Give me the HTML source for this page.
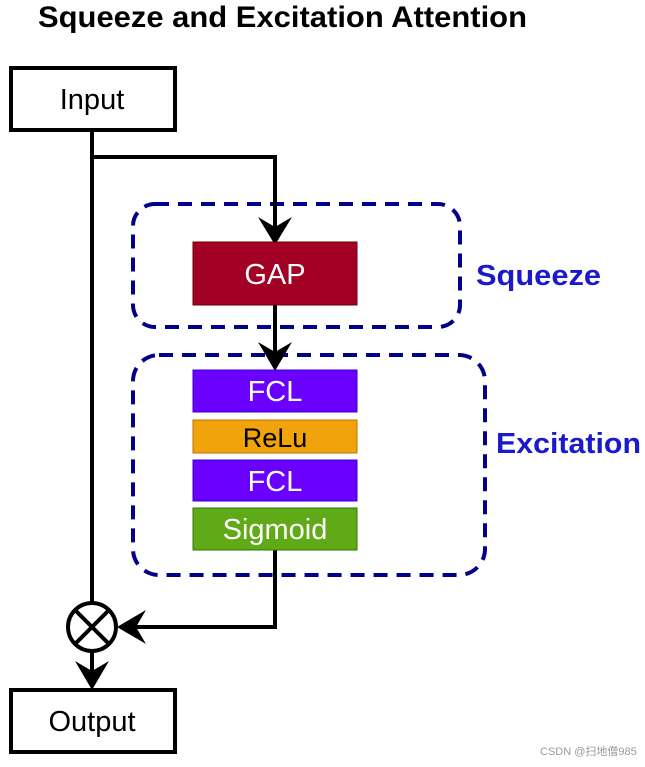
<!DOCTYPE html>
<html><head><style>
body{margin:0;background:#fff;}
svg text{font-family:"Liberation Sans",Arial,sans-serif;}
</style></head><body>
<svg width="645" height="762" viewBox="0 0 645 762" xmlns="http://www.w3.org/2000/svg">
<text x="38" y="27" font-size="30" font-weight="bold" fill="#000" textLength="489" lengthAdjust="spacingAndGlyphs">Squeeze and Excitation Attention</text>
<rect x="11" y="68" width="164" height="62" fill="#fff" stroke="#000" stroke-width="4"/>
<text x="92" y="109" font-size="29" text-anchor="middle">Input</text>
<rect x="11" y="690" width="164" height="62" fill="#fff" stroke="#000" stroke-width="4"/>
<text x="92" y="731" font-size="29" text-anchor="middle">Output</text>
<rect x="133" y="204" width="327" height="123" rx="22" fill="none" stroke="#00008b" stroke-width="4" stroke-dasharray="14,9"/>
<rect x="133" y="355" width="352" height="220" rx="26" fill="none" stroke="#00008b" stroke-width="4" stroke-dasharray="14,9"/>
<text x="476" y="285" font-size="29" font-weight="bold" fill="#1a1acc" textLength="125" lengthAdjust="spacingAndGlyphs">Squeeze</text>
<text x="496" y="453" font-size="29" font-weight="bold" fill="#1a1acc" textLength="145" lengthAdjust="spacingAndGlyphs">Excitation</text>
<path d="M92 130 V602 M92 157 H275 V228 M275 305 V358 M275 550 V627 H130 M92 652 V674" fill="none" stroke="#000" stroke-width="4"/>
<polygon points="258,217 275,245 292,217 275,227" fill="#000"/>
<polygon points="258,342 275,371 292,342 275,352" fill="#000"/>
<polygon points="75,661 92,690 109,661 92,671" fill="#000"/>
<polygon points="146,610 117,627 146,644 136,627" fill="#000"/>
<rect x="193" y="242" width="164" height="63" fill="#a20025" stroke="#6f0000" stroke-width="1"/>
<text x="275" y="284" font-size="29" fill="#fff" text-anchor="middle">GAP</text>
<rect x="193" y="370" width="164" height="42" fill="#6a00ff" stroke="#3700cc" stroke-width="1"/>
<text x="275" y="401" font-size="29" fill="#fff" text-anchor="middle">FCL</text>
<rect x="193" y="420" width="164" height="33" fill="#f0a30a" stroke="#bd7000" stroke-width="1"/>
<text x="275" y="447" font-size="27" fill="#000" text-anchor="middle">ReLu</text>
<rect x="193" y="460" width="164" height="41" fill="#6a00ff" stroke="#3700cc" stroke-width="1"/>
<text x="275" y="491" font-size="29" fill="#fff" text-anchor="middle">FCL</text>
<rect x="193" y="508" width="164" height="42" fill="#60a917" stroke="#2d7600" stroke-width="1"/>
<text x="275" y="539" font-size="29" fill="#fff" text-anchor="middle">Sigmoid</text>
<circle cx="92" cy="627" r="24" fill="#fff" stroke="#000" stroke-width="4"/>
<path d="M75 610 L109 644 M109 610 L75 644" stroke="#000" stroke-width="4"/>
<text x="540" y="755" font-size="11" fill="#999">CSDN @扫地僧985</text>
</svg>
</body></html>
